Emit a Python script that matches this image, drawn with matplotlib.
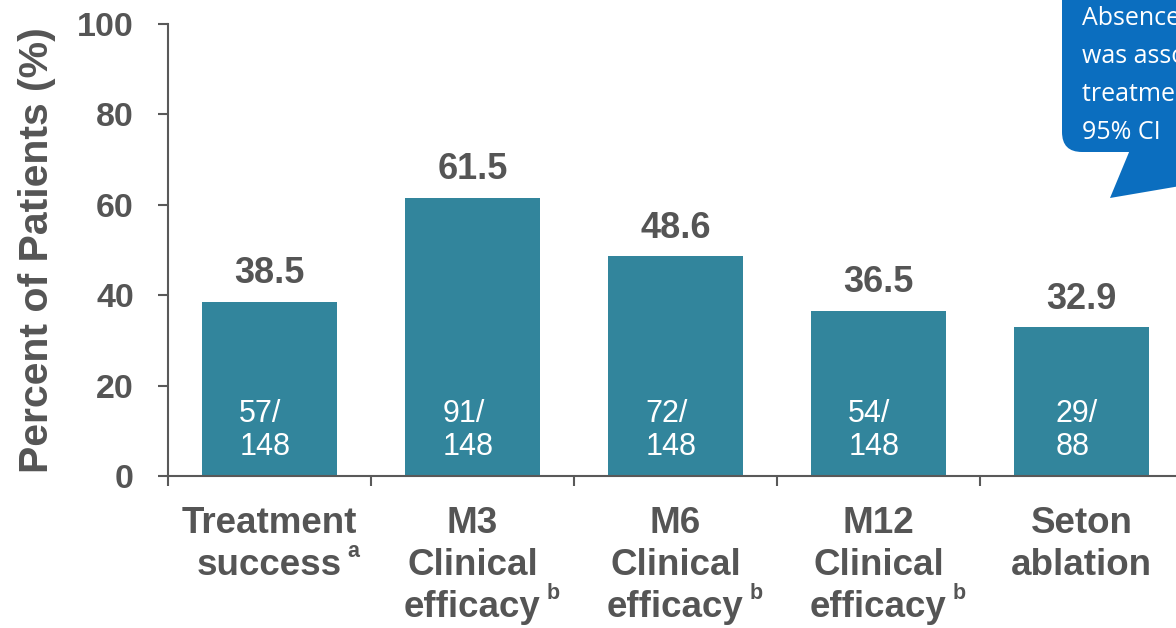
import matplotlib
matplotlib.use("Agg")
import matplotlib.pyplot as plt
from matplotlib.patches import FancyBboxPatch, Polygon
from matplotlib.transforms import IdentityTransform

plt.rcParams['font.family'] = ['Liberation Sans', 'DejaVu Sans']

# ---- data -------------------------------------------------------------
categories = [
    ["Treatment", "success"],
    ["M3", "Clinical", "efficacy"],
    ["M6", "Clinical", "efficacy"],
    ["M12", "Clinical", "efficacy"],
    ["Seton", "ablation"],
]
footnotes = ["a", "b", "b", "b", ""]
percent = [38.5, 61.5, 48.6, 36.5, 32.9]
responders = [57, 91, 72, 54, 29]
totals = [148, 148, 148, 148, 88]
y_ticks = [0, 20, 40, 60, 80, 100]
callout_lines = ["Absence of seton ablation", "was associated with",
                 "treatment success", "95% CI"]

# ---- style ------------------------------------------------------------
BAR = "#32859C"
TEXT = "#555555"
AXIS = "#595959"
CALLOUT = "#0B6EBF"

W, H = 1176, 628
fig = plt.figure(figsize=(W / 100, H / 100), dpi=100)
ax = fig.add_axes([168 / W, 152 / H, 1015 / W, 452 / H])

x = list(range(len(percent)))
ax.bar(x, percent, width=0.665, color=BAR, zorder=2)

ax.set_xlim(-0.5, len(percent) - 0.5)
ax.set_ylim(0, 100)
ax.set_yticks(y_ticks)
ax.set_xticks([i - 0.5 for i in range(len(percent) + 1)])
ax.set_xticklabels([])

for side in ("top", "right"):
    ax.spines[side].set_visible(False)
for side in ("left", "bottom"):
    ax.spines[side].set_color(AXIS)
    ax.spines[side].set_linewidth(1.5)

ax.tick_params(axis="both", direction="out", length=7.5, width=1.5, color=AXIS)
ax.tick_params(axis="y", pad=17, labelsize=24.5, labelcolor=TEXT)
for lbl in ax.get_yticklabels():
    lbl.set_fontweight("bold")

ax.set_ylabel("Percent of Patients (%)", fontsize=29.5, fontweight="bold",
              color=TEXT, labelpad=15)

# value above each bar
for i, v in enumerate(percent):
    ax.annotate(f"{v:.1f}", xy=(i, v), xytext=(0, 13.5),
                textcoords="offset points", ha="center", va="baseline",
                fontsize=26, fontweight="bold", color=TEXT)

# n / N inside each bar
for i, (n, d) in enumerate(zip(responders, totals)):
    ax.annotate(f"{n}/\n{d}", xy=(i, 0), xytext=(-3.5, 15),
                textcoords="offset points", ha="center", va="baseline",
                multialignment="left", fontsize=22, color="white",
                linespacing=1.15, zorder=3)

# category labels (one text per line) with footnote markers
line_offsets = [-41, -71.3, -101.5]
for i, lines in enumerate(categories):
    last = None
    for k, line in enumerate(lines):
        last = ax.annotate(line, xy=(i, 0), xytext=(0, line_offsets[k]),
                           textcoords="offset points", ha="center",
                           va="baseline", fontsize=26.5, fontweight="bold",
                           color=TEXT, annotation_clip=False)
    if footnotes[i]:
        ax.annotate(footnotes[i], xy=(1, 0), xycoords=(last, "data"),
                    xytext=(4, line_offsets[len(lines) - 1] + 13),
                    textcoords="offset points", ha="left", va="baseline",
                    fontsize=15.5, fontweight="bold", color=TEXT,
                    annotation_clip=False)

# speech-bubble callout in the top-right corner (pixel coordinates)
px = IdentityTransform()
box = FancyBboxPatch((1062, H - 152), 300, 200,
                     boxstyle="round,pad=0,rounding_size=20",
                     transform=px, facecolor=CALLOUT, edgecolor="none",
                     zorder=5)
fig.patches.append(box)
tail = Polygon([(1132, H - 145), (1110, H - 198), (1420, H - 145)],
               closed=True, transform=px, facecolor=CALLOUT,
               edgecolor="none", zorder=5)
fig.patches.append(tail)

baselines = [25, 63, 101, 139]
for line, b in zip(callout_lines, baselines):
    fig.text(1082, H - b, line, transform=px, ha="left", va="baseline",
             fontsize=18, color="white", family=["Open Sans", "DejaVu Sans"],
             zorder=6)

fig.savefig("out.png", dpi=100)
